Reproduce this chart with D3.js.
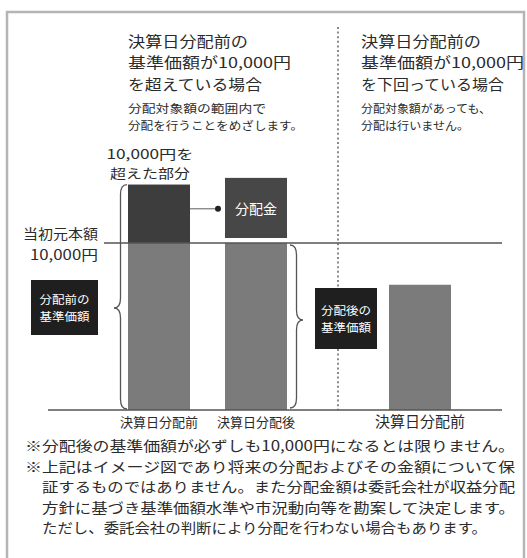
<!DOCTYPE html>
<html>
<head>
<meta charset="utf-8">
<script src="https://cdn.jsdelivr.net/npm/d3@7"></script>
<style>
  body { margin: 0; background: #fff; }
  svg text { font-family: "Noto Sans CJK JP", "Noto Sans", sans-serif; fill: #2b2b2b; }
</style>
</head>
<body>
<svg id="chart" width="527" height="558"></svg>
<script>
// data
var barKeys = ["above_before", "above_after", "below_before"];
var barLabels = ["決算日分配前", "決算日分配後", "決算日分配前"];
var baseValues = [10000, 10000, 7500];      // gray part (基準価額)
var excessValues = [3500, 0, 0];            // dark part above 10,000円
var payout = [10300, 13900];                // 分配金 box, drawn over bar 2
var principal = 10000;                      // 当初元本額

var headA = ["決算日分配前の", "基準価額が10,000円", "を超えている場合"];
var subA = ["分配対象額の範囲内で", "分配を行うことをめざします。"];
var headB = ["決算日分配前の", "基準価額が10,000円", "を下回っている場合"];
var subB = ["分配対象額があっても、", "分配は行いません。"];
var notes = [
  "※分配後の基準価額が必ずしも10,000円になるとは限りません。",
  "※上記はイメージ図であり将来の分配およびその金額について保",
  "証するものではありません。また分配金額は委託会社が収益分配",
  "方針に基づき基準価額水準や市況動向等を勘案して決定します。",
  "ただし、委託会社の判断により分配を行わない場合もあります。"
];

var svg = d3.select("#chart");

var y = d3.scaleLinear().domain([0, 10000]).range([410, 243]);
var xc = d3.scaleOrdinal().domain(barKeys).range([159, 256, 420]);
var bw = 62;

// frame
svg.append("rect").attr("x", 7).attr("y", 12).attr("width", 517).attr("height", 560)
  .attr("fill", "none").attr("stroke", "#b5b5b5").attr("stroke-width", 2.5);

// divider
svg.append("line").attr("x1", 338).attr("x2", 338).attr("y1", 27).attr("y2", 410)
  .attr("stroke", "#8a8a8a").attr("stroke-width", 2).attr("stroke-dasharray", "2,2.6");

// bars
svg.selectAll(".base").data(barKeys).join("rect")
  .attr("x", function (d) { return xc(d) - bw / 2 })
  .attr("width", bw)
  .attr("y", function (d, i) { return y(baseValues[i]) })
  .attr("height", function (d, i) { return y(0) - y(baseValues[i]) })
  .attr("fill", "#7b7b7b");

svg.selectAll(".excess").data(barKeys.filter(function (d, i) { return excessValues[i] > 0 })).join("rect")
  .attr("x", function (d) { return xc(d) - bw / 2 })
  .attr("width", bw)
  .attr("y", function (d) { var i = barKeys.indexOf(d); return y(baseValues[i] + excessValues[i]) })
  .attr("height", function (d) { var i = barKeys.indexOf(d); return y(baseValues[i]) - y(baseValues[i] + excessValues[i]) })
  .attr("fill", "#3d3d3d");

// 分配金 box
svg.append("rect")
  .attr("x", xc("above_after") - bw / 2).attr("width", bw)
  .attr("y", y(payout[1])).attr("height", y(payout[0]) - y(payout[1]))
  .attr("fill", "#474747");
svg.append("text").attr("x", xc("above_after")).attr("y", (y(payout[0]) + y(payout[1])) / 2)
  .attr("text-anchor", "middle").attr("dominant-baseline", "central")
  .style("font-size", "14px").style("fill", "#fff").text("分配金");

// arrow
var ay = (y(baseValues[0] + excessValues[0]) + y(principal)) / 2 - 5;
svg.append("line").attr("x1", xc("above_before") + bw / 2).attr("x2", xc("above_after") - bw / 2 - 7)
  .attr("y1", ay).attr("y2", ay).attr("stroke", "#777").attr("stroke-width", 1.2);
svg.append("circle").attr("cx", xc("above_after") - bw / 2 - 7).attr("cy", ay).attr("r", 3).attr("fill", "#222");

// lines
svg.append("line").attr("x1", 104).attr("x2", 502).attr("y1", y(principal)).attr("y2", y(principal))
  .attr("stroke", "#555").attr("stroke-width", 1.4);
svg.append("line").attr("x1", 48).attr("x2", 502).attr("y1", y(0)).attr("y2", y(0))
  .attr("stroke", "#555").attr("stroke-width", 1.4);

// braces
function brace(x, y0, y1, ym, w) {
  // w < 0 tip to the left, w > 0 tip to the right
  var r = 5, h = w / 2;
  var p = d3.path();
  p.moveTo(x, y0);
  p.quadraticCurveTo(x + h, y0, x + h, y0 + r * 2);
  p.lineTo(x + h, ym - r * 2);
  p.quadraticCurveTo(x + h, ym, x + w, ym);
  p.quadraticCurveTo(x + h, ym, x + h, ym + r * 2);
  p.lineTo(x + h, y1 - r * 2);
  p.quadraticCurveTo(x + h, y1, x, y1);
  return p.toString();
}
svg.append("path").attr("d", brace(xc("above_before") - bw / 2 - 1, y(baseValues[0] + excessValues[0]), y(0) - 1, 308, -13))
  .attr("fill", "none").attr("stroke", "#555").attr("stroke-width", 1.3);
svg.append("path").attr("d", brace(xc("above_after") + bw / 2 + 3, y(principal) + 2, y(0) - 2, 320, 13))
  .attr("fill", "none").attr("stroke", "#555").attr("stroke-width", 1.3);

// black label boxes
function labelBox(x, y0, w, h, lines) {
  svg.append("rect").attr("x", x).attr("y", y0).attr("width", w).attr("height", h).attr("fill", "#1f1f1f");
  lines.forEach(function (t, i) {
    svg.append("text").attr("x", x + w / 2).attr("y", y0 + h / 2 + (i - 0.5) * 17)
      .attr("text-anchor", "middle").attr("dominant-baseline", "central")
      .attr("textLength", 50).attr("lengthAdjust", "spacingAndGlyphs")
      .style("font-size", "11.5px").style("fill", "#fff").text(t);
  });
}
labelBox(31, 280, 67, 55, ["分配前の", "基準価額"]);
labelBox(315, 288, 62, 61, ["分配後の", "基準価額"]);

// headings
function lines(arr, x, y0, dy, size, anchor, widths) {
  arr.forEach(function (t, i) {
    var el = svg.append("text").attr("x", x).attr("y", y0 + i * dy)
      .attr("text-anchor", anchor || "start").attr("dominant-baseline", "central")
      .style("font-size", size + "px").text(t);
    if (widths && widths[i]) el.attr("textLength", widths[i]).attr("lengthAdjust", "spacingAndGlyphs");
  });
}
lines(headA, 128, 40, 21.5, 14.5, "start", [120, 163, 134]);
lines(subA, 128, 108, 17, 11.5, "start", [138, 175]);
lines(headB, 361, 40, 21.5, 14.5, "start", [120, 163, 143]);
lines(subB, 361, 108, 17, 11.5, "start", [130, 108]);
lines(["10,000円を", "超えた部分"], 150, 153, 19, 13, "middle", [87, 80]);
lines(["当初元本額", "10,000円"], 98, 233, 21, 14, "end", [75, 68]);

// category labels
barKeys.forEach(function (k, i) {
  svg.append("text").attr("x", xc(k)).attr("y", i < 2 ? 421 : 420)
    .attr("text-anchor", "middle").attr("dominant-baseline", "central")
    .style("font-size", i < 2 ? "13px" : "15px").text(barLabels[i]);
});

// notes
lines([notes[0], notes[1]], 25, 445, 20.5, 14, "start", [490, 490]);
lines([notes[2], notes[3], notes[4]], 42, 486, 20.5, 14, "start", [473, 473, 445]);
</script>
</body>
</html>
